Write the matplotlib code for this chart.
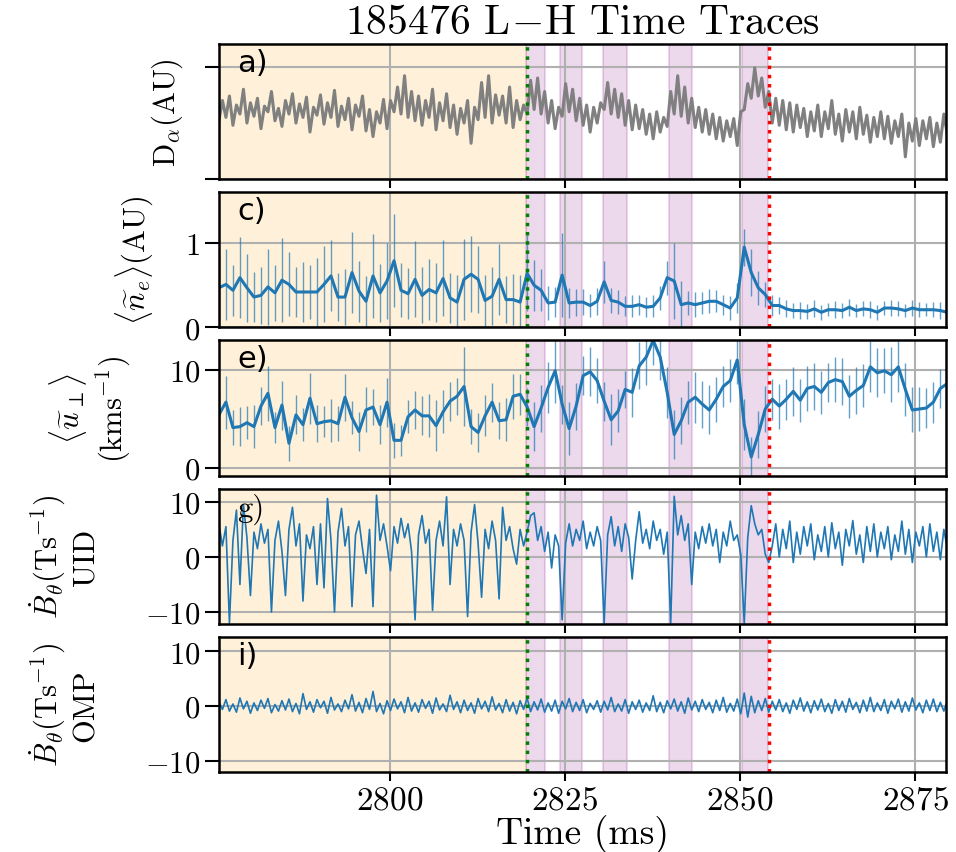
import numpy as np
import matplotlib
matplotlib.use("Agg")
import matplotlib.pyplot as plt

plt.rcParams['font.family'] = 'serif'
plt.rcParams['font.serif'] = ['cmr10']
plt.rcParams['mathtext.fontset'] = 'cm'
plt.rcParams['axes.formatter.use_mathtext'] = True
plt.rcParams['font.size'] = 22

# time base (ms)
t0 = 2775.6
dt_prof = 1.0   # profile-averaged quantities (c, e)
dt_raw = 0.5    # raw traces (a, g, i)

# a) D-alpha (AU)
dalpha = [0.52, 0.70, 0.55, 0.74, 0.48, 0.66, 0.58, 0.80, 0.50, 0.68,
          0.56, 0.72, 0.45, 0.65, 0.60, 0.78, 0.52, 0.63, 0.47, 0.70,
          0.58, 0.76, 0.50, 0.67, 0.55, 0.73, 0.42, 0.64, 0.57, 0.75,
          0.49, 0.68, 0.55, 0.79, 0.47, 0.65, 0.53, 0.72, 0.44, 0.66,
          0.56, 0.74, 0.43, 0.62, 0.38, 0.60, 0.50, 0.71, 0.45, 0.70,
          0.60, 0.82, 0.58, 0.92, 0.55, 0.78, 0.52, 0.74, 0.48, 0.70,
          0.55, 0.80, 0.44, 0.68, 0.52, 0.76, 0.46, 0.66, 0.40, 0.63,
          0.50, 0.70, 0.32, 0.64, 0.53, 0.86, 0.55, 0.92, 0.50, 0.75,
          0.57, 0.74, 0.50, 0.82, 0.46, 0.70, 0.53, 0.66, 0.58, 0.88,
          0.62, 0.90, 0.58, 0.78, 0.50, 0.70, 0.45, 0.64, 0.56, 0.85,
          0.60, 0.80, 0.52, 0.72, 0.48, 0.66, 0.42, 0.64, 0.50, 0.68,
          0.62, 0.86, 0.58, 0.80, 0.55, 0.76, 0.48, 0.70, 0.44, 0.66,
          0.45, 0.62, 0.40, 0.58, 0.36, 0.60, 0.42, 0.55, 0.47, 0.78,
          0.58, 0.92, 0.56, 0.82, 0.50, 0.72, 0.46, 0.64, 0.42, 0.62,
          0.40, 0.58, 0.36, 0.55, 0.34, 0.52, 0.38, 0.54, 0.30, 0.60,
          0.62, 0.85, 0.72, 0.99, 0.74, 0.90, 0.64, 0.78, 0.50, 0.72,
          0.48, 0.70, 0.44, 0.68, 0.42, 0.66, 0.46, 0.63, 0.38, 0.60,
          0.43, 0.66, 0.38, 0.60, 0.45, 0.70, 0.40, 0.58, 0.34, 0.62,
          0.42, 0.60, 0.36, 0.64, 0.40, 0.57, 0.33, 0.55, 0.38, 0.60,
          0.36, 0.56, 0.32, 0.52, 0.38, 0.58, 0.20, 0.50, 0.34, 0.54,
          0.30, 0.52, 0.36, 0.55, 0.29, 0.50, 0.33, 0.58, 0.40]

# c) density fluctuation amplitude (AU) and its spread
ne = [0.47, 0.51, 0.44, 0.59, 0.47, 0.36, 0.38, 0.48, 0.41, 0.56,
      0.51, 0.42, 0.42, 0.42, 0.42, 0.51, 0.61, 0.36, 0.36, 0.65,
      0.43, 0.31, 0.61, 0.41, 0.55, 0.79, 0.44, 0.40, 0.57, 0.38,
      0.45, 0.41, 0.58, 0.35, 0.30, 0.57, 0.63, 0.57, 0.32, 0.37,
      0.57, 0.33, 0.33, 0.30, 0.64, 0.50, 0.44, 0.29, 0.30, 0.62,
      0.29, 0.30, 0.30, 0.26, 0.31, 0.54, 0.32, 0.30, 0.25, 0.25,
      0.27, 0.24, 0.25, 0.35, 0.59, 0.55, 0.27, 0.29, 0.27, 0.29,
      0.31, 0.31, 0.27, 0.23, 0.35, 0.95, 0.65, 0.47, 0.39, 0.26,
      0.26, 0.22, 0.20, 0.20, 0.19, 0.22, 0.18, 0.21, 0.21, 0.20,
      0.24, 0.20, 0.22, 0.21, 0.18, 0.23, 0.23, 0.22, 0.20, 0.23,
      0.21, 0.21, 0.21, 0.20, 0.18]
ne_err = [0.36, 0.42, 0.30, 0.48, 0.40, 0.30, 0.34, 0.45, 0.33, 0.50,
          0.38, 0.30, 0.35, 0.32, 0.40, 0.45, 0.42, 0.28, 0.33, 0.48,
          0.36, 0.30, 0.50, 0.34, 0.45, 0.55, 0.32, 0.30, 0.45, 0.33,
          0.36, 0.35, 0.45, 0.30, 0.32, 0.48, 0.45, 0.40, 0.30, 0.34,
          0.42, 0.28, 0.30, 0.32, 0.45,
          0.30, 0.25, 0.20, 0.18, 0.50, 0.18, 0.16, 0.15, 0.14, 0.16,
          0.25, 0.15, 0.14, 0.12, 0.13, 0.12, 0.12, 0.13, 0.14, 0.20,
          0.45, 0.28, 0.14, 0.15, 0.13, 0.14, 0.13, 0.12, 0.14, 0.18,
          0.22, 0.28, 0.20, 0.15, 0.12, 0.10, 0.10, 0.09, 0.10, 0.09,
          0.10, 0.09, 0.08, 0.10, 0.09, 0.10, 0.08, 0.09, 0.10, 0.09,
          0.08, 0.10, 0.09, 0.08, 0.10, 0.09, 0.08, 0.09, 0.10, 0.08]

# e) perpendicular velocity (km/s) and its spread
uperp = [5.4, 6.7, 4.1, 4.2, 4.6, 4.2, 6.3, 7.6, 4.1, 6.4,
         2.5, 5.4, 4.4, 7.1, 4.5, 4.7, 4.8, 4.5, 7.2, 5.1,
         3.7, 5.9, 6.2, 4.4, 6.7, 2.8, 2.8, 5.2, 5.9, 5.3,
         5.3, 4.3, 5.7, 6.8, 7.3, 8.3, 4.2, 3.6, 5.3, 6.7,
         4.8, 4.9, 7.3, 7.5, 6.2, 4.2, 6.1, 8.2, 9.9, 6.5,
         4.0, 6.3, 9.4, 9.8, 8.9, 6.8, 4.9, 5.8, 8.0, 7.7,
         10.4, 11.3, 13.0, 11.3, 7.7, 3.4, 4.8, 6.7, 7.2, 6.5,
         5.9, 7.0, 8.3, 8.9, 11.0, 4.4, 1.1, 3.4, 6.0, 7.0,
         6.3, 7.0, 7.8, 6.9, 8.1, 8.3, 7.7, 8.7, 9.0, 8.8,
         7.3, 7.9, 8.4, 10.3, 9.7, 9.9, 9.5, 10.3, 8.0, 5.9,
         6.0, 6.1, 6.7, 8.1, 8.6]
uperp_err = [2.0, 2.7, 1.8, 2.0, 1.7, 2.2, 1.9, 2.8, 1.6, 2.5,
             1.8, 2.0, 1.7, 2.6, 1.9, 1.6, 2.2, 1.8, 2.4, 1.7,
             2.0, 2.3, 1.8, 2.0, 2.5, 1.8, 1.6, 1.7, 1.9, 2.0,
             2.2, 2.6, 2.2, 2.0, 1.9, 4.0, 1.8, 2.0, 2.1, 2.0,
             1.9, 2.2, 2.3, 2.1, 1.9, 2.5, 2.4, 2.6, 3.3, 2.0,
             2.7, 2.4, 2.0, 2.5, 2.3, 2.0, 2.6, 2.2, 1.9, 2.5,
             2.4, 2.8, 2.5, 2.3, 2.6, 2.5, 2.4, 2.2, 2.6, 2.4,
             2.5, 2.3, 2.1, 2.2, 2.4, 2.6, 2.0, 2.4, 2.3, 2.1,
             2.3, 2.1, 2.5, 2.2, 2.3, 2.4, 2.2, 2.0, 2.3, 2.4,
             2.2, 2.4, 2.2, 2.6, 2.5, 2.3, 2.8, 2.6, 2.7, 2.3,
             2.2, 2.0, 2.1, 2.0, 2.2]

# g) Bdot UID (T/s)
bdot_uid = [6.0, 2.0, 5.5, -12.0, 3.0, 8.5, -5.0, 9.5, 3.5, -7.0,
            4.5, 1.5, 6.0, 2.5, 5.0, -10.0, 3.0, 6.5, 1.0, -7.0,
            5.0, 9.0, 2.0, 6.0, -8.0, 4.0, 1.5, 5.5, -5.0, 6.0,
            -5.6, 10.6, 3.0, -10.0, 4.5, 8.8, 2.0, 5.5, -9.0, 4.0,
            6.5, 1.5, -3.0, 5.0, -9.0, 11.2, 3.0, 6.0, 2.0, -2.5,
            5.5, 2.5, 7.0, 3.5, 6.0, 1.0, -11.4, 4.0, 7.5, 2.5,
            5.0, -9.7, 3.0, 6.5, 2.0, 10.9, -5.0, 5.0, 2.0, 6.0,
            3.0, -10.8, 4.5, 9.5, 2.5, -7.3, 5.0, 1.5, 6.5, 3.0,
            -7.6, 9.0, 3.0, 5.5, 1.5, -1.3, 5.0, 2.0, 4.5, 7.5,
            8.0, 3.0, 5.5, 1.0, 4.5, -2.0, 4.0, 2.0, -11.4, 2.5,
            6.0, 2.0, 5.0, 3.0, 6.5, 1.5, 4.5, 2.0, 5.5, 3.0,
            -12.0, 4.0, 7.3, 2.0, 5.5, 1.0, 6.0, 3.5, -4.0, 3.0,
            8.2, 2.5, 5.0, 1.5, 6.5, 3.0, 5.0, 0.5, 4.5, -12.0,
            11.0, 4.0, 7.5, 3.0, 6.0, -5.0, 4.5, 1.5, 5.5, 2.5,
            6.0, 2.0, 5.0, -1.0, 4.5, 2.0, 6.5, 3.0, 4.0, 0.5,
            -12.0, 3.5, 9.3, 6.0, 4.0, 5.0, 0.5, -1.0, 2.0, 6.0,
            0.0, 5.0, 1.5, 6.5, -1.0, 4.5, 0.5, 5.5, 2.0, 6.0,
            -0.5, 4.0, 1.0, 5.5, 0.0, 6.2, 1.5, 4.5, -1.5, 5.0,
            2.0, 6.6, 0.5, 4.0, -1.0, 5.5, 1.0, 6.0, 0.0, 4.5,
            1.5, 5.5, -0.5, 4.0, 1.0, 6.5, 0.5, 5.0, -1.0, 4.5,
            2.0, 5.5, 0.0, 6.0, 1.0, 4.5, -0.5, 5.0, 1.5]

# i) Bdot OMP (T/s)
bdot_omp = [0.8, -0.6, 1.2, -0.9, 0.4, -1.1, 1.5, -0.5, 0.9, -1.3,
            0.6, -0.8, 1.1, -0.4, 1.4, -1.2, 0.3, -0.9, 1.0, -0.7,
            1.3, -1.0, 0.5, -1.4, 2.3, -0.6, 0.8, -1.1, 1.2, -0.3,
            0.9, -1.3, 1.6, -0.7, 0.4, -1.0, 1.1, -0.5, 2.1, -0.9,
            0.7, -1.2, 1.4, -0.6, 2.7, -1.0, 0.5, -1.4, 1.0, -0.8,
            1.3, -0.5, 0.8, -1.2, 1.6, -0.9, 0.6, -1.1, 1.2, -0.4,
            0.9, -1.3, 1.5, -0.7, 0.4, -1.0, 2.0, -0.6, 0.8, -1.2,
            1.1, -0.8, 0.6, -1.3, 1.4, -0.5, 0.9, -1.0, 1.7, -0.7,
            0.5, -1.2, 1.2, -0.9, 0.7, -1.4, 1.0, -0.6, 1.5, -1.0,
            0.8, -0.7, 1.3, -1.1, 0.6, -0.9, 1.1, -1.3, 0.9, -0.5,
            1.4, -1.0, 0.7, -0.8, 1.2, -1.2, 0.5, -0.6, 1.0, -1.1,
            0.9, -0.7, 1.6, -1.0, 0.4, -0.9, 1.2, -1.3, 0.8, -0.6,
            1.1, -1.1, 0.6, -0.8, 1.9, -1.0, 0.7, -1.2, 1.0, -0.5,
            1.3, -0.9, 0.8, -1.3, 1.5, -0.7, 0.9, -1.0, 1.2, -0.6,
            0.7, -1.2, 1.1, -0.8, 1.6, -1.1, 0.5, -0.9, 1.3, -1.4,
            2.4, -2.0, 1.8, -1.2, 1.0, -0.8, 1.4, -1.1, 0.9, -0.7,
            1.2, -1.0, 0.6, -1.3, 1.1, -0.6, 1.5, -0.9, 0.8, -1.2,
            1.0, -0.7, 1.3, -1.0, 0.5, -1.3, 1.2, -0.8, 0.9, -1.1,
            1.4, -0.6, 0.7, -1.2, 1.1, -0.9, 1.6, -1.0, 0.6, -0.8,
            1.2, -1.3, 0.9, -0.5, 1.3, -1.1, 0.8, -0.9, 1.5, -0.7,
            0.6, -1.2, 1.1, -0.8, 1.3, -1.0, 0.7, -0.9, 1.0]

# transition times (ms) and highlighted windows
t_LH = 2819.6
t_H = 2854.2
windows = [(2819.4, 2822.2), (2824.3, 2827.4), (2830.4, 2833.9),
           (2839.9, 2843.1), (2850.3, 2854.0)]

t_raw = t0 + dt_raw * np.arange(len(dalpha))
t_prof = t0 + dt_prof * np.arange(len(ne))

fig, axs = plt.subplots(5, 1, sharex=True, figsize=(9.56, 8.53), dpi=100,
                        gridspec_kw=dict(hspace=0.096))
fig.subplots_adjust(left=0.229, right=0.9895, top=0.947, bottom=0.094)

ax = axs[0]
ax.plot(t_raw, dalpha, color='gray', lw=2.2)
ax.set_ylim(0, 1.2)
ax.set_yticks([0, 1])
ax.set_yticklabels([])
ax.set_ylabel(r'$\mathrm{D}_\alpha\mathrm{(AU)}$')
ax.yaxis.set_label_coords(-0.047, 0.5)
ax.set_title(r'185476 $\mathrm{L\!-\!H}$ Time Traces', fontsize=30, pad=8)

ax = axs[1]
ax.errorbar(t_prof, ne, yerr=ne_err, fmt='none', ecolor='tab:blue', elinewidth=1, alpha=0.7)
ax.plot(t_prof, ne, color='tab:blue', lw=2.2)
ax.set_ylim(0, 1.6)
ax.set_yticks([0, 1])
ax.set_ylabel(r'$\langle\widetilde{n}_e\rangle\mathrm{(AU)}$')
ax.yaxis.set_label_coords(-0.088, 0.5)

ax = axs[2]
ax.errorbar(t_prof, uperp, yerr=uperp_err, fmt='none', ecolor='tab:blue', elinewidth=1, alpha=0.7)
ax.plot(t_prof, uperp, color='tab:blue', lw=2.2)
ax.set_ylim(-0.8, 13.0)
ax.set_yticks([0, 10])
ax.set_ylabel(r'$\langle\widetilde{u}_\perp\rangle$' + '\n' + r'$\mathrm{(kms^{-1})}$')
ax.yaxis.set_label_coords(-0.118, 0.5)

ax = axs[3]
ax.plot(t_raw, bdot_uid, color='tab:blue', lw=1.2)
ax.set_ylim(-12.1, 12.4)
ax.set_yticks([-10, 0, 10])
ax.set_ylabel(r'$\dot{B}_\theta\mathrm{(Ts^{-1})}$' + '\n' + 'UID')
ax.yaxis.set_label_coords(-0.164, 0.5)

ax = axs[4]
ax.plot(t_raw, bdot_omp, color='tab:blue', lw=1.2)
ax.set_ylim(-12.0, 12.7)
ax.set_yticks([-10, 0, 10])
ax.set_ylabel(r'$\dot{B}_\theta\mathrm{(Ts^{-1})}$' + '\n' + 'OMP')
ax.yaxis.set_label_coords(-0.164, 0.5)
ax.set_xlabel('Time (ms)', fontsize=27, labelpad=0)

labels = ['a)', 'c)', 'e)', 'g)', 'i)']
label_fonts = ['DejaVu Sans', 'DejaVu Sans', 'DejaVu Sans', 'serif', 'DejaVu Sans']
for ax, lab, fam in zip(axs, labels, label_fonts):
    ax.axvspan(2770, t_LH, color='orange', alpha=0.15, lw=0)
    for a, b in windows:
        ax.axvspan(a, b, color='purple', alpha=0.15, lw=1.5)
    ax.axvline(t_LH, color='green', ls=':', lw=2.5)
    ax.axvline(t_H, color='red', ls=':', lw=2.5)
    ax.grid(True, color='#b0b0b0', lw=1.5)
    ax.tick_params(axis='y', direction='out', length=10, width=1.5)
    ax.tick_params(axis='x', direction='out', length=6.5, width=1.5, labelsize=24, pad=3)
    for s in ax.spines.values():
        s.set_linewidth(1.8)
    ax.text(0.025, 0.97, lab, transform=ax.transAxes, va='top', ha='left',
            fontsize=22, family=fam)

axs[-1].set_xlim(2775.6, 2879.4)
axs[-1].set_xticks([2800, 2825, 2850, 2875])

fig.savefig('out.png', dpi=100)
